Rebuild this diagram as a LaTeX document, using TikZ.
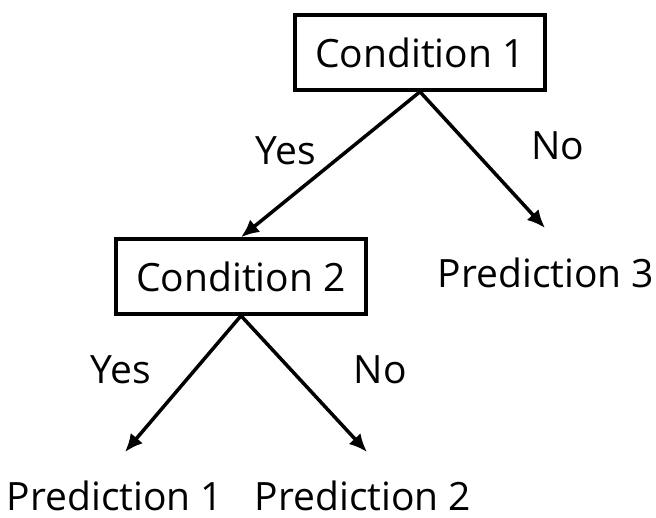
\documentclass[tikz,border=0pt]{standalone}
\usepackage{fontspec}
\setmainfont{Open Sans}
\usetikzlibrary{arrows.meta}

\begin{document}
\begin{tikzpicture}[x=1pt,y=-1pt,
  block/.style={draw,line width=3.5pt,minimum width=250pt,minimum height=75pt},
  lbl/.style={inner sep=0pt},
  arr/.style={-{Latex[length=18pt,width=16pt]},line width=3.5pt},
  font=\fontsize{39}{47}\selectfont]
\useasboundingbox (0,0) rectangle (656,517);
\node[block](C1) at (420,52.5) {Condition 1};
\node[block](C2) at (241,276.5) {Condition 2};
\node[lbl,anchor=base](P3) at (546,287) {Prediction 3};
\node[lbl,anchor=base](P1) at (115,510) {Prediction 1};
\node[lbl,anchor=base](P2) at (363,510) {Prediction 2};
\coordinate (t3) at (545,228);
\coordinate (t1) at (125,452);
\coordinate (t2) at (367,452);
\draw[arr] (C1.south) -- (C2.north)
node[midway,lbl,anchor=base east,xshift=-13pt]{Yes};
\draw[arr] (C1.south) -- (t3) node[midway,lbl,anchor=base west,xshift=47pt]{No};
\draw[arr] (C2.south) -- (t1)
node[midway,lbl,anchor=base east,xshift=-30pt]{Yes};
\draw[arr] (C2.south) -- (t2) node[midway,lbl,anchor=base west,xshift=48pt]{No};
\end{tikzpicture}
\end{document}
